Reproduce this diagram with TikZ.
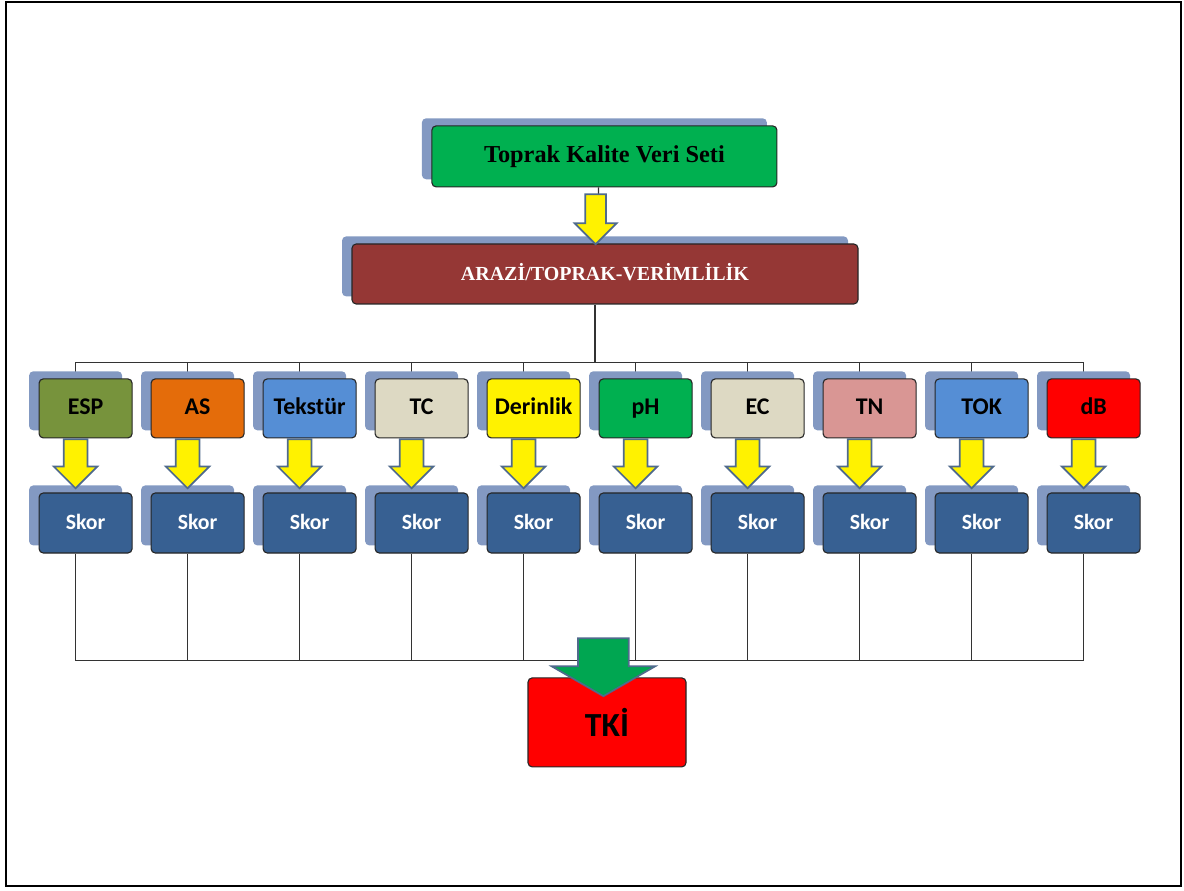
\documentclass[tikz,border=0pt]{standalone}
\usepackage{fontspec}
\setmainfont{Liberation Serif}
\newfontfamily\labelfont{Carlito}
\usetikzlibrary{positioning, calc, shapes.arrows, shadows, backgrounds}

\definecolor{shadowblue}{RGB}{131,153,194}
\definecolor{skorblue}{RGB}{55,96,146}
\definecolor{arrowrim}{RGB}{79,106,140}
\definecolor{brownred}{RGB}{149,55,53}
\definecolor{datagreen}{RGB}{0,176,80}
\definecolor{espgreen}{RGB}{119,147,60}
\definecolor{asorange}{RGB}{228,108,10}
\definecolor{skyblue}{RGB}{85,142,213}
\definecolor{stone}{RGB}{221,217,195}
\definecolor{rose}{RGB}{217,150,148}
\definecolor{arrowgreen}{RGB}{0,166,81}

\begin{document}
\begin{tikzpicture}[
  block/.style={
    draw=black!85, line width=0.8pt, rounded corners=3pt, align=center
  },
  param/.style={
    block, minimum width=2.325cm, minimum height=1.475cm,
    text height=2.3ex, text depth=0.4ex,
    font=\labelfont\bfseries\fontsize{17}{20}\selectfont,
    drop shadow={shadow xshift=-0.25cm, shadow yshift=0.19cm, fill=shadowblue, opacity=1}
  },
  score/.style={
    param, fill=skorblue, text=white, minimum height=1.5cm,
    font=\labelfont\bfseries\fontsize{15.5}{18}\selectfont
  },
  yarrow/.style={
    single arrow, draw=arrowrim, line width=1.2pt, fill=yellow, rotate=-90,
    minimum height=1.225cm, minimum width=1.05cm, single arrow head extend=0.25cm,
    inner xsep=0pt, inner ysep=0.275cm, anchor=tail
  },
  garrow/.style={
    single arrow, draw=arrowrim, line width=1.2pt, fill=arrowgreen, rotate=-90,
    minimum height=1.45cm, minimum width=2.55cm, single arrow head extend=0.66cm,
    single arrow tip angle=120, inner xsep=0pt, inner ysep=0.6125cm, anchor=tail
  },
  link/.style={draw=black!80, line width=0.9pt}
]
\useasboundingbox (0,0) rectangle (29.6,22.25);
\draw[line width=1.4pt] (0.15,0.1) rectangle (29.525,22.2);

% Data set and land/fertility block
\node[param, fill=datagreen, minimum width=8.625cm, minimum height=1.525cm,
  font=\bfseries\fontsize{17.3}{20}\selectfont] (veri) at (15.11, 18.34) {Toprak Kalite Veri Seti};
\node[param, fill=brownred, text=white, minimum width=12.65cm, minimum height=1.5cm,
  font=\bfseries\fontsize{14.2}{17}\selectfont] (arazi) at (15.125, 15.4) {ARAZİ/TOPRAK-VERİMLİLİK};

% Indicators
\node[param, fill=espgreen] (p1)  at (2.14, 12.04)  {ESP};
\node[param, fill=asorange] (p2)  at (4.94, 12.04)  {AS};
\node[param, fill=skyblue]  (p3)  at (7.74, 12.04)  {Tekstür};
\node[param, fill=stone]    (p4)  at (10.54, 12.04) {TC};
\node[param, fill=yellow]   (p5)  at (13.34, 12.04) {Derinlik};
\node[param, fill=datagreen] (p6) at (16.14, 12.04) {pH};
\node[param, fill=stone]    (p7)  at (18.94, 12.04) {EC};
\node[param, fill=rose]     (p8)  at (21.74, 12.04) {TN};
\node[param, fill=skyblue]  (p9)  at (24.54, 12.04) {TOK};
\node[param, fill=red]      (p10) at (27.34, 12.04) {dB};

% Scores
\node[score] (s1)  at (2.14, 9.175)  {Skor};
\node[score] (s2)  at (4.94, 9.175)  {Skor};
\node[score] (s3)  at (7.74, 9.175)  {Skor};
\node[score] (s4)  at (10.54, 9.175) {Skor};
\node[score] (s5)  at (13.34, 9.175) {Skor};
\node[score] (s6)  at (16.14, 9.175) {Skor};
\node[score] (s7)  at (18.94, 9.175) {Skor};
\node[score] (s8)  at (21.74, 9.175) {Skor};
\node[score] (s9)  at (24.54, 9.175) {Skor};
\node[score] (s10) at (27.34, 9.175) {Skor};

% Soil quality index
\node[block, fill=red, minimum width=3.95cm, minimum height=2.225cm,
  font=\labelfont\bfseries\fontsize{24}{28}\selectfont] (tki) at (15.175, 4.19) {TKİ};

% Tree lines (behind the boxes)
\begin{pgfonlayer}{background}
\draw[link] ([xshift=-0.15cm]veri.south) -- ([xshift=-0.15cm]arazi.north);
\draw[link] ([xshift=-0.25cm]arazi.south) -- ++(0,-1.45) coordinate (bustop);
\coordinate (busbot) at ($(tki.north)+(0,0.43)$);
\foreach \i in {1,...,10} {
  \draw[link] ([xshift=-0.25cm]p\i.north) |- (bustop);
  \draw[link] ([xshift=-0.25cm]s\i.south) |- (busbot);
}
\end{pgfonlayer}

% Block arrows
\node[yarrow, minimum height=1.25cm, inner ysep=0.22cm] (a0) at ([xshift=-0.22cm, yshift=-0.15cm]veri.south) {};
\foreach \i in {1,...,10}
  \node[yarrow] (a\i) at ([xshift=-0.25cm]p\i.south) {};
\node[garrow] (ga) at ($(tki.north)+(-0.09,1.0)$) {};

\end{tikzpicture}
\end{document}
